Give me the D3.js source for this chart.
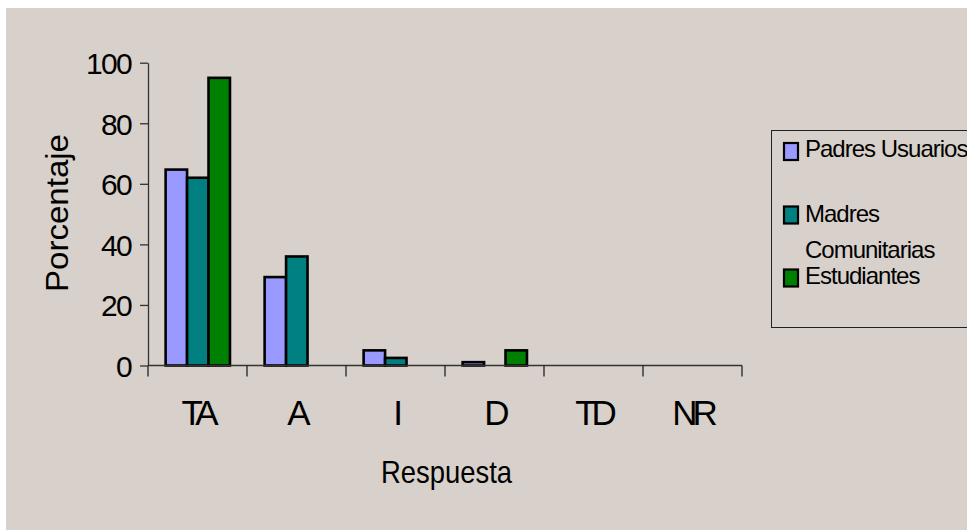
<!DOCTYPE html>
<html>
<head>
<meta charset="utf-8">
<script src="https://cdn.jsdelivr.net/npm/d3@7"></script>
<style>
  html, body { margin: 0; padding: 0; background: #ffffff; }
  svg { display: block; font-family: "Liberation Sans", Arial, sans-serif; }
</style>
</head>
<body>
<svg id="chart" width="967" height="530"></svg>
<script>
const categories = ["TA", "A", "I", "D", "TD", "NR"];
const seriesNames = ["Padres Usuarios", "Madres Comunitarias", "Estudiantes"];
const padres = [64.7, 29.2, 5, 1.1, 0, 0];
const madres = [62, 36, 2.5, 0, 0, 0];
const estudiantes = [95, 0, 0, 5, 0, 0];
const yTicks = [0, 20, 40, 60, 80, 100];
const colors = ["#9999ff", "#008080", "#008000"];

const svg = d3.select("#chart");
const W = 967, H = 530;

// background panel
svg.append("rect").attr("x", 6).attr("y", 8).attr("width", W - 6).attr("height", H - 8)
  .attr("fill", "#d8d0ca");

const plot = { left: 148, right: 742, top: 62.7, bottom: 365.5 };

const y = d3.scaleLinear().domain([0, 100]).range([plot.bottom, plot.top]);
const x0 = d3.scaleBand().domain(categories).range([plot.left, plot.right]).paddingInner(0).paddingOuter(0);
const bw = x0.bandwidth();
const x1 = d3.scaleBand().domain(seriesNames).range([bw * 0.178, bw * 0.828]).padding(0);

const rows = categories.map((c, i) => ({
  cat: c,
  vals: [padres[i], madres[i], estudiantes[i]].map((v, j) => ({ name: seriesNames[j], v, color: colors[j] }))
}));

// bars
const g = svg.append("g");
g.selectAll("g.cat").data(rows).join("g")
  .attr("class", "cat")
  .attr("transform", d => `translate(${x0(d.cat)},0)`)
  .selectAll("rect").data(d => d.vals.filter(v => v.v > 0)).join("rect")
  .attr("x", d => x1(d.name))
  .attr("width", x1.bandwidth())
  .attr("y", d => y(d.v))
  .attr("height", d => y(0) - y(d.v))
  .attr("fill", d => d.color)
  .attr("stroke", "#000")
  .attr("stroke-width", 2.6);

// y axis
const yAxis = svg.append("g").attr("transform", `translate(${plot.left},0)`)
  .call(d3.axisLeft(y).tickValues(yTicks).tickSize(8).tickSizeOuter(0).tickFormat(d3.format("d")));
yAxis.select(".domain").attr("stroke", "#333").attr("stroke-width", 1.3);
yAxis.selectAll(".tick line").attr("stroke", "#333").attr("stroke-width", 1.3);
yAxis.selectAll(".tick text")
  .attr("x", -17).attr("dy", "0.36em")
  .attr("font-size", 30).attr("fill", "#000")
  .attr("letter-spacing", "-1.7px")
  .attr("font-family", "Liberation Sans, Arial, sans-serif");

// x axis
const xAxis = svg.append("g").attr("transform", `translate(0,${plot.bottom})`)
  .call(d3.axisBottom(x0).tickSize(0).tickSizeOuter(0).tickPadding(0));
xAxis.select(".domain").attr("stroke", "#333").attr("stroke-width", 1.3)
  .attr("d", `M${plot.left},0H${plot.right}`);
xAxis.selectAll(".tick text")
  .attr("y", 59.5).attr("dy", 0).attr("x", 0)
  .attr("font-size", 35).attr("fill", "#000")
  .attr("letter-spacing", "-5px")
  .attr("font-family", "Liberation Sans, Arial, sans-serif");
// boundary ticks
const bounds = categories.map(c => x0(c)).concat([x0.range()[1]]);
xAxis.selectAll("line.bound").data(bounds).join("line")
  .attr("class", "bound")
  .attr("x1", d => d).attr("x2", d => d)
  .attr("y1", 0).attr("y2", 11)
  .attr("stroke", "#222").attr("stroke-width", 1.3);

// axis titles
svg.append("text")
  .attr("transform", "translate(68,213) rotate(-90)")
  .attr("text-anchor", "middle")
  .attr("font-size", 32)
  .attr("textLength", 158).attr("lengthAdjust", "spacingAndGlyphs")
  .text("Porcentaje");

svg.append("text")
  .attr("transform", "translate(446.5,483)")
  .attr("text-anchor", "middle")
  .attr("font-size", 32)
  .attr("textLength", 131).attr("lengthAdjust", "spacingAndGlyphs")
  .text("Respuesta");

// legend
const leg = svg.append("g");
leg.append("rect").attr("x", 771.5).attr("y", 130.5).attr("width", 220).attr("height", 197)
  .attr("fill", "none").attr("stroke", "#222").attr("stroke-width", 1);

const legendItems = [
  { lines: ["Padres Usuarios"], baselines: [157.3], sq: 143, color: colors[0] },
  { lines: ["Madres", "Comunitarias"], baselines: [221.7, 258], sq: 206.5, color: colors[1] },
  { lines: ["Estudiantes"], baselines: [284], sq: 269.5, color: colors[2] }
];
legendItems.forEach(it => {
  leg.append("rect").attr("x", 784).attr("y", it.sq).attr("width", 14).attr("height", 17)
    .attr("fill", it.color).attr("stroke", "#000").attr("stroke-width", 2.2);
  it.lines.forEach((ln, k) => {
    leg.append("text")
      .attr("x", 805).attr("y", it.baselines[k])
      .attr("font-size", 24)
      .attr("letter-spacing", "-1px")
      .text(ln);
  });
});
</script>
</body>
</html>
